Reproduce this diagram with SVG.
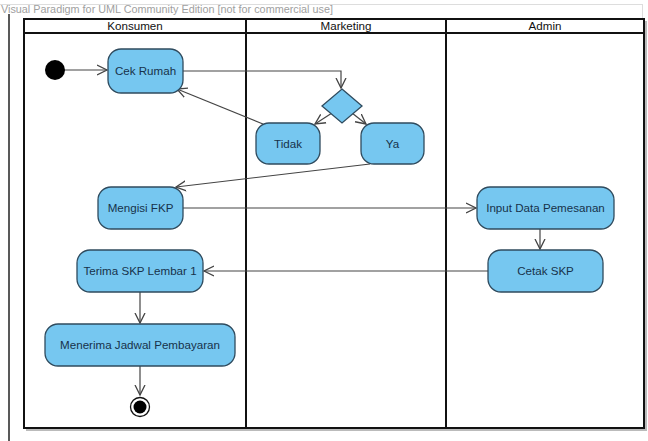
<svg xmlns="http://www.w3.org/2000/svg" width="648" height="441" viewBox="0 0 648 441">
  <style>
    .act { fill: #76c7f0; stroke: #2f4b5e; stroke-width: 1.3; }
    .lbl { font-family: "Liberation Sans", Arial, sans-serif; font-size: 11.6px; fill: #17324a; text-anchor: middle; }
    .hdr { font-family: "Liberation Sans", Arial, sans-serif; font-size: 11.6px; fill: #111; text-anchor: middle; }
    .flow { fill: none; stroke: #444; stroke-width: 1.2; }
    .lane { fill: none; stroke: #111; stroke-width: 2; }
    .shadow { fill: none; stroke: #bbb; stroke-width: 2; }
  </style>
  <defs>
    <marker id="open" markerWidth="12" markerHeight="12" refX="10" refY="5" orient="auto" markerUnits="userSpaceOnUse" viewBox="0 0 12 10">
      <path d="M0,0 L10,5 L0,10" fill="none" stroke="#444" stroke-width="1.3"/>
    </marker>
  </defs>

  <rect width="648" height="441" fill="#fff"/>

  <!-- page edge and watermark -->
  <line x1="0" y1="4.5" x2="643" y2="4.5" stroke="#ddd" stroke-width="1"/>
  <line x1="642.5" y1="4" x2="642.5" y2="18" stroke="#ddd" stroke-width="1"/>
  <line x1="9" y1="14" x2="9" y2="441" stroke="#222" stroke-width="1.5"/>
  <text x="1" y="13" font-family="Liberation Sans, Arial, sans-serif" font-size="10" fill="#a0a0a0" textLength="332" lengthAdjust="spacingAndGlyphs">Visual Paradigm for UML Community Edition [not for commercial use]</text>

  <!-- swimlanes -->
  <g id="swimlanes">
    <polyline class="shadow" points="646,21 646,430 26,430"/>
    <rect class="lane" x="24" y="19" width="620" height="409"/>
    <line class="lane" x1="24" y1="33" x2="644" y2="33"/>
    <line class="lane" x1="246" y1="19" x2="246" y2="428"/>
    <line class="lane" x1="446" y1="19" x2="446" y2="428"/>
    <text class="hdr" x="135" y="30">Konsumen</text>
    <text class="hdr" x="346" y="30">Marketing</text>
    <text class="hdr" x="545" y="30">Admin</text>
  </g>

  <!-- connectors -->
  <g id="connectors">
    <line class="flow" x1="64" y1="70" x2="107" y2="70" marker-end="url(#open)"/>
    <polyline class="flow" points="183,71 341,71 341,88" marker-end="url(#open)"/>
    <line class="flow" x1="332" y1="113" x2="315" y2="124" marker-end="url(#open)"/>
    <line class="flow" x1="352" y1="113" x2="366" y2="124" marker-end="url(#open)"/>
    <line class="flow" x1="263" y1="124" x2="177" y2="89" marker-end="url(#open)"/>
    <line class="flow" x1="370" y1="164" x2="176" y2="187" marker-end="url(#open)"/>
    <line class="flow" x1="183" y1="208" x2="476" y2="208" marker-end="url(#open)"/>
    <line class="flow" x1="540" y1="229" x2="540" y2="249" marker-end="url(#open)"/>
    <line class="flow" x1="488" y1="271" x2="204" y2="271" marker-end="url(#open)"/>
    <line class="flow" x1="140" y1="292" x2="140" y2="323" marker-end="url(#open)"/>
    <line class="flow" x1="140" y1="366" x2="140" y2="395" marker-end="url(#open)"/>
  </g>

  <!-- nodes -->
  <g id="start">
    <circle cx="55" cy="70" r="10" fill="#000"/>
  </g>
  <g id="cek-rumah">
    <rect class="act" x="108" y="49" width="75" height="44" rx="13"/>
    <text class="lbl" x="145.5" y="75">Cek Rumah</text>
  </g>
  <g id="decision">
    <polygon class="act" points="342,89 362,106 342,123 322,106"/>
  </g>
  <g id="tidak">
    <rect class="act" x="256" y="123" width="64" height="41" rx="13"/>
    <text class="lbl" x="288" y="148">Tidak</text>
  </g>
  <g id="ya">
    <rect class="act" x="361" y="123" width="63" height="41" rx="13"/>
    <text class="lbl" x="392.5" y="148">Ya</text>
  </g>
  <g id="mengisi-fkp">
    <rect class="act" x="98" y="187" width="85" height="42" rx="13"/>
    <text class="lbl" x="140.5" y="212">Mengisi FKP</text>
  </g>
  <g id="input-data">
    <rect class="act" x="477" y="187" width="137" height="42" rx="13"/>
    <text class="lbl" x="545.5" y="212">Input Data Pemesanan</text>
  </g>
  <g id="cetak-skp">
    <rect class="act" x="488" y="250" width="115" height="42" rx="13"/>
    <text class="lbl" x="545.5" y="275">Cetak SKP</text>
  </g>
  <g id="terima-skp">
    <rect class="act" x="77" y="250" width="126" height="42" rx="13"/>
    <text class="lbl" x="140" y="275">Terima SKP Lembar 1</text>
  </g>
  <g id="menerima-jadwal">
    <rect class="act" x="45" y="324" width="190" height="42" rx="13"/>
    <text class="lbl" x="140" y="349">Menerima Jadwal Pembayaran</text>
  </g>
  <g id="end">
    <circle cx="140" cy="407" r="9.5" fill="#fff" stroke="#111" stroke-width="1.3"/>
    <circle cx="140" cy="407" r="6.5" fill="#000"/>
  </g>
</svg>
